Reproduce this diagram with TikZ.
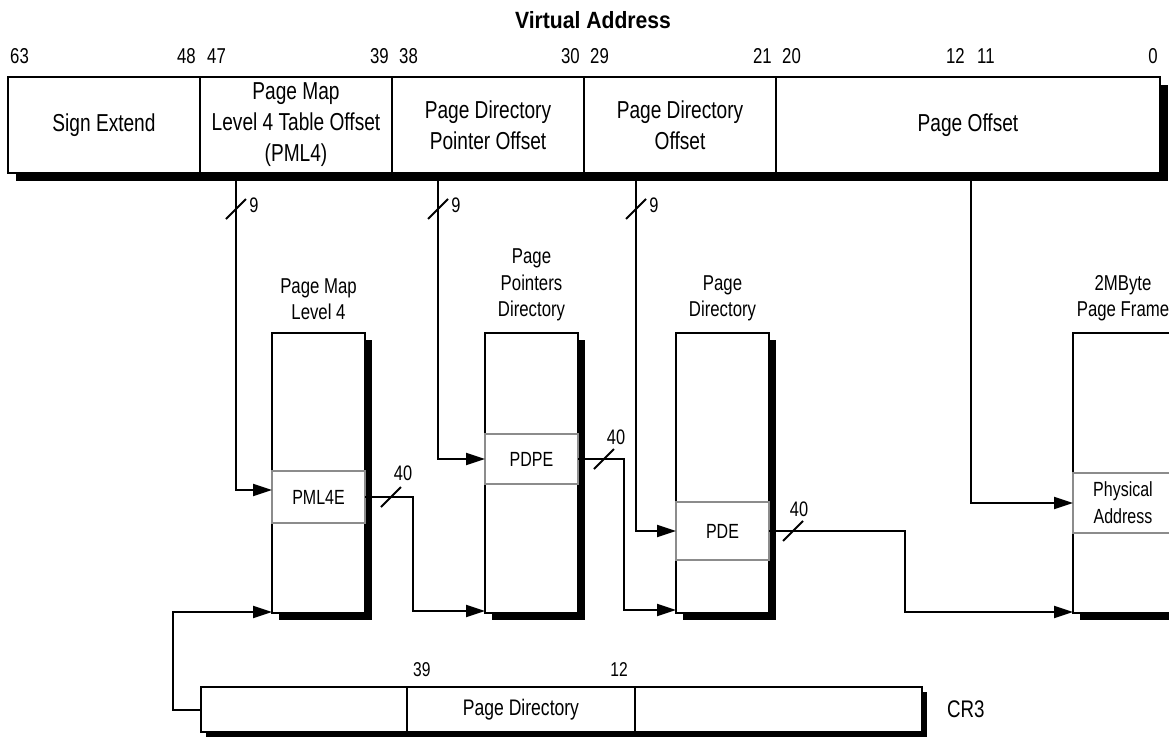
\documentclass[tikz,border=0pt]{standalone}
\usepackage{fontspec}
\setmainfont{Liberation Sans}[FakeStretch=0.78]
\newfontfamily\headfont{Liberation Sans}[FakeStretch=0.9]
\usetikzlibrary{arrows.meta,positioning,calc,shadows}
\definecolor{entrygray}{HTML}{8C8C8C}

\tikzset{slash/.pic={\draw[line width=2pt] (-10,10) -- (10,-10);}}

\begin{document}
\begin{tikzpicture}[
  x=1pt, y=-1pt,
  field/.style={draw, line width=2pt, fill=white, minimum height=96, inner sep=0pt, outer sep=0pt, align=center, font=\fontsize{24.5}{31}\selectfont, drop shadow={shadow xshift=8pt, shadow yshift=-8pt, fill=black, opacity=1}},
  pagetable/.style={draw, line width=2pt, fill=white, minimum width=93, minimum height=280, inner sep=0pt, outer sep=0pt, drop shadow={shadow xshift=7pt, shadow yshift=-7pt, fill=black, opacity=1}},
  tentry/.style={draw=entrygray, line width=2pt, minimum width=93, inner sep=0pt, outer sep=0pt, align=center, font=\fontsize{20.5}{27}\selectfont},
  reg/.style={draw, line width=1.6pt, fill=white, minimum height=45, inner sep=0pt, outer sep=0pt, font=\fontsize{22.5}{24}\selectfont, drop shadow={shadow xshift=5pt, shadow yshift=-5pt, fill=black, opacity=1}},
  tablabel/.style={inner sep=0pt, outer sep=0pt, align=center, font=\fontsize{21.5}{26.5}\selectfont},
  bitnum/.style={inner sep=0pt, font=\fontsize{21.5}{24}\selectfont},
  regnum/.style={inner sep=0pt, font=\fontsize{20}{22}\selectfont},
  buswidth/.style={inner sep=0pt, font=\fontsize{21}{23}\selectfont},
  heading/.style={inner sep=0pt, font=\headfont\bfseries\fontsize{23.5}{28}\selectfont},
  link/.style={line width=2pt, -{Triangle[length=19pt, width=12pt]}}
]
  \useasboundingbox (0,0) rectangle (1169,737);

  % Virtual address
  \node[heading] (vaname) at (593,20) {Virtual Address};
  \node[field, minimum width=192, anchor=north west] (sign) at (8,77) {Sign Extend};
  \node[field, minimum width=192, right=0pt of sign] (pml) {Page Map\\Level 4 Table Offset\\(PML4)};
  \node[field, minimum width=192, right=0pt of pml] (pdp) {Page Directory\\Pointer Offset};
  \node[field, minimum width=192, right=0pt of pdp] (pdo) {Page Directory\\Offset};
  \node[field, minimum width=384, right=0pt of pdo] (off) {Page Offset};

  % Bit numbers
  \node[bitnum, anchor=base west] (b63) at ($(sign.north west)+(2,-14)$) {63};
  \node[bitnum, anchor=base east] (b48) at ($(sign.north east)+(-4,-14)$) {48};
  \node[bitnum, anchor=base west] (b47) at ($(pml.north west)+(7,-14)$) {47};
  \node[bitnum, anchor=base east] (b39) at ($(pml.north east)+(-3,-14)$) {39};
  \node[bitnum, anchor=base west] (b38) at ($(pdp.north west)+(7,-14)$) {38};
  \node[bitnum, anchor=base east] (b30) at ($(pdp.north east)+(-4,-14)$) {30};
  \node[bitnum, anchor=base west] (b29) at ($(pdo.north west)+(6,-14)$) {29};
  \node[bitnum, anchor=base east] (b21) at ($(pdo.north east)+(-4,-14)$) {21};
  \node[bitnum, anchor=base west] (b20) at ($(off.north west)+(6,-14)$) {20};
  \node[bitnum, anchor=base east] (b12) at (965,63) {12};
  \node[bitnum, anchor=base west] (b11) at (977,63) {11};
  \node[bitnum, anchor=base east] (b0) at ($(off.north east)+(-2,-14)$) {0};

  % Index taps
  \coordinate (pmltap) at (236,173);
  \coordinate (pdptap) at (438,173);
  \coordinate (pdtap) at (636,173);
  \coordinate (offtap) at (971,173);

  % Page Map Level 4
  \node[pagetable, anchor=north west] (pml4) at (272,333) {};
  \node[tablabel, above=13pt of pml4] (pml4name) {Page Map\\Level 4};
  \node[tentry, minimum height=52, anchor=north west] (pml4e) at ($(pml4.north west)+(0,138)$) {PML4E};

  % Page Directory Pointer table
  \node[pagetable, anchor=north west] (pdpt) at (485,333) {};
  \node[tablabel, above=12pt of pdpt] (pdptname) {Page\\Pointers\\Directory};
  \node[tentry, minimum height=50, anchor=north west] (pdpe) at ($(pdpt.north west)+(0,101)$) {PDPE};

  % Page Directory
  \node[pagetable, anchor=north west] (pd) at (676,333) {};
  \node[tablabel, above=12pt of pd] (pdname) {Page\\Directory};
  \node[tentry, minimum height=58, anchor=north west] (pde) at ($(pd.north west)+(0,169)$) {PDE};

  % Page frame
  \node[pagetable, minimum width=100, anchor=north west] (frame) at (1073,333) {};
  \node[tablabel, above=12pt of frame] (framename) {2MByte\\Page Frame};
  \node[tentry, minimum width=100, minimum height=60, anchor=north west] (phys) at ($(frame.north west)+(0,140)$) {Physical\\Address};

  % CR3
  \node[reg, minimum width=721, anchor=north west] (cr3) at (201,687) {};
  \node[reg, minimum width=206, anchor=north west, drop shadow={opacity=0}] (cr3a) at (201,687) {};
  \node[reg, minimum width=228, right=0pt of cr3a, drop shadow={opacity=0}] (cr3b) {Page Directory};
  \node[reg, minimum width=287, right=0pt of cr3b, drop shadow={opacity=0}] (cr3c) {};
  \node[inner sep=0pt, font=\fontsize{24}{26}\selectfont, right=25pt of cr3c] (cr3name) {CR3};
  \node[regnum, anchor=base west] (r39) at ($(cr3b.north west)+(6,-11)$) {39};
  \node[regnum, anchor=base east] (r12) at ($(cr3c.north west)+(-7,-11)$) {12};

  % Table walk
  \draw[link] (pmltap) |- ([yshift=7pt]pml4e.west);
  \draw[link] (pdptap) |- (pdpe.west);
  \draw[link] (pdtap) |- (pde.west);
  \draw[link] (offtap) |- (phys.west);
  \draw[link] (pml4e.east) -- ++(48,0) |- ([yshift=2pt]pdpt.south west);
  \draw[link] (pdpe.east) -- ++(46,0) |- ([yshift=3pt]pd.south west);
  \draw[link] (pde.east) -- ++(136,0) |- ([yshift=1pt]frame.south west);
  \draw[link] (cr3a.west) -- ++(-28,0) |- ([yshift=1pt]pml4.south west);

  % Bus widths
  \pic at ($(pmltap)+(0,36)$) {slash};
  \pic at ($(pdptap)+(0,36)$) {slash};
  \pic at ($(pdtap)+(0,36)$) {slash};
  \node[buswidth] (w9a) at ($(pmltap)+(18,32)$) {9};
  \node[buswidth] (w9b) at ($(pdptap)+(18,32)$) {9};
  \node[buswidth] (w9c) at ($(pdtap)+(18,32)$) {9};
  \pic at ($(pml4e.east)+(26,0)$) {slash};
  \pic at ($(pdpe.east)+(26,0)$) {slash};
  \pic at ($(pde.east)+(24,0)$) {slash};
  \node[buswidth] (w40a) at ($(pml4e.east)+(38,-24)$) {40};
  \node[buswidth] (w40b) at ($(pdpe.east)+(38,-22)$) {40};
  \node[buswidth] (w40c) at ($(pde.east)+(30,-22)$) {40};
\end{tikzpicture}
\end{document}
